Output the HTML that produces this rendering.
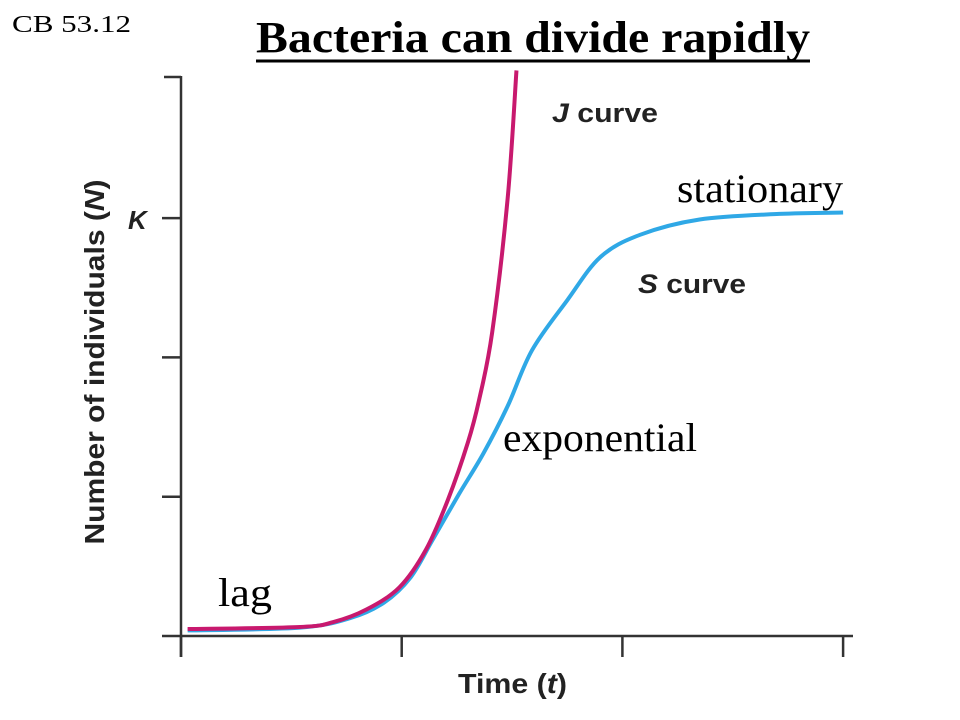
<!DOCTYPE html>
<html><head><meta charset="utf-8"><style>
body{margin:0;background:#fff;width:960px;height:720px;overflow:hidden}
svg{display:block}
.sans{font-family:"Liberation Sans",Arial,sans-serif;font-weight:bold;fill:#222}
.serif{font-family:"Liberation Serif","Times New Roman",serif;fill:#000}
</style></head><body>
<svg id="chart" width="960" height="720">
<text class="serif" x="12" y="32" font-size="24" textLength="119" lengthAdjust="spacingAndGlyphs">CB 53.12</text>
<text class="serif" x="256" y="52" font-size="44" font-weight="bold" textLength="554" lengthAdjust="spacingAndGlyphs">Bacteria can divide rapidly</text>
<line x1="256" y1="61" x2="810" y2="61" stroke="#000" stroke-width="3"/>
<g id="axes" stroke="#333" stroke-width="2.5" fill="none"></g>
<g id="series"></g>
<text class="sans" x="128" y="229" font-size="26" font-style="italic">K</text>
<text class="sans" font-size="28" text-anchor="middle" textLength="365" lengthAdjust="spacingAndGlyphs" transform="translate(104,362) rotate(-90)">Number of individuals (<tspan font-style="italic">N</tspan>)</text>
<text class="sans" x="458" y="693" font-size="28" textLength="109" lengthAdjust="spacingAndGlyphs">Time (<tspan font-style="italic">t</tspan>)</text>
<text class="sans" x="552" y="122" font-size="27" textLength="106" lengthAdjust="spacingAndGlyphs"><tspan font-style="italic">J</tspan> curve</text>
<text class="sans" x="638" y="293" font-size="27" textLength="108" lengthAdjust="spacingAndGlyphs"><tspan font-style="italic">S</tspan> curve</text>
<text class="serif" x="677" y="202" font-size="40" textLength="166" lengthAdjust="spacingAndGlyphs">stationary</text>
<text class="serif" x="503" y="451" font-size="40" textLength="194" lengthAdjust="spacingAndGlyphs">exponential</text>
<text class="serif" x="218" y="606" font-size="40" textLength="54" lengthAdjust="spacingAndGlyphs">lag</text>
</svg>
<script>
const jTimes=[0.03,0.54,0.69,0.84,0.99,1.11,1.21,1.30,1.35,1.41,1.48,1.52];
const jValues=[0.05,0.065,0.10,0.19,0.35,0.62,0.98,1.39,1.69,2.18,3.14,4.06];
const sTimes=[0.03,0.54,0.77,0.92,1.04,1.14,1.26,1.37,1.48,1.59,1.75,1.90,2.08,2.35,2.71,3.0];
const sValues=[0.04,0.06,0.13,0.24,0.42,0.69,1.02,1.31,1.65,2.05,2.41,2.72,2.88,2.99,3.03,3.04];
const xTicks=[0,1,2,3];
const yTicks=[1,2,3];
const X=t=>181+t*220.7, Y=n=>636-n*139.3;
const NS="http://www.w3.org/2000/svg";
const axes=document.getElementById('axes'), series=document.getElementById('series');
function ln(x1,y1,x2,y2,name){const l=document.createElementNS(NS,'line');
l.setAttribute('x1',x1);l.setAttribute('y1',y1);l.setAttribute('x2',x2);l.setAttribute('y2',y2);


axes.appendChild(l);}
ln(181,76,181,657,'y-axis');
ln(162,636,853,636,'x-axis');
ln(164,77,181,77,'y-axis-top-tick');
yTicks.forEach(v=>ln(162,Y(v),181,Y(v),'y-tick'));
xTicks.forEach(v=>ln(X(v),636,X(v),657,'x-tick'));
function path(ts,vs,color,name){
 const p=ts.map((t,i)=>[X(t),Y(vs[i])]);
 let d='M'+p[0][0]+','+p[0][1];
 for(let i=0;i<p.length-1;i++){const a=p[Math.max(i-1,0)],b=p[i],c=p[i+1],e=p[Math.min(i+2,p.length-1)];
  d+=` C${b[0]+(c[0]-a[0])/6},${b[1]+(c[1]-a[1])/6} ${c[0]-(e[0]-b[0])/6},${c[1]-(e[1]-b[1])/6} ${c[0]},${c[1]}`;}
 const el=document.createElementNS(NS,'path');
 el.setAttribute('d',d);el.setAttribute('fill','none');el.setAttribute('stroke',color);el.setAttribute('stroke-width','4');
 
 
 series.appendChild(el);}
path(sTimes,sValues,'#2fa8e6','s-curve-line');
path(jTimes,jValues,'#c8196e','j-curve-line');
</script>
</body></html>
